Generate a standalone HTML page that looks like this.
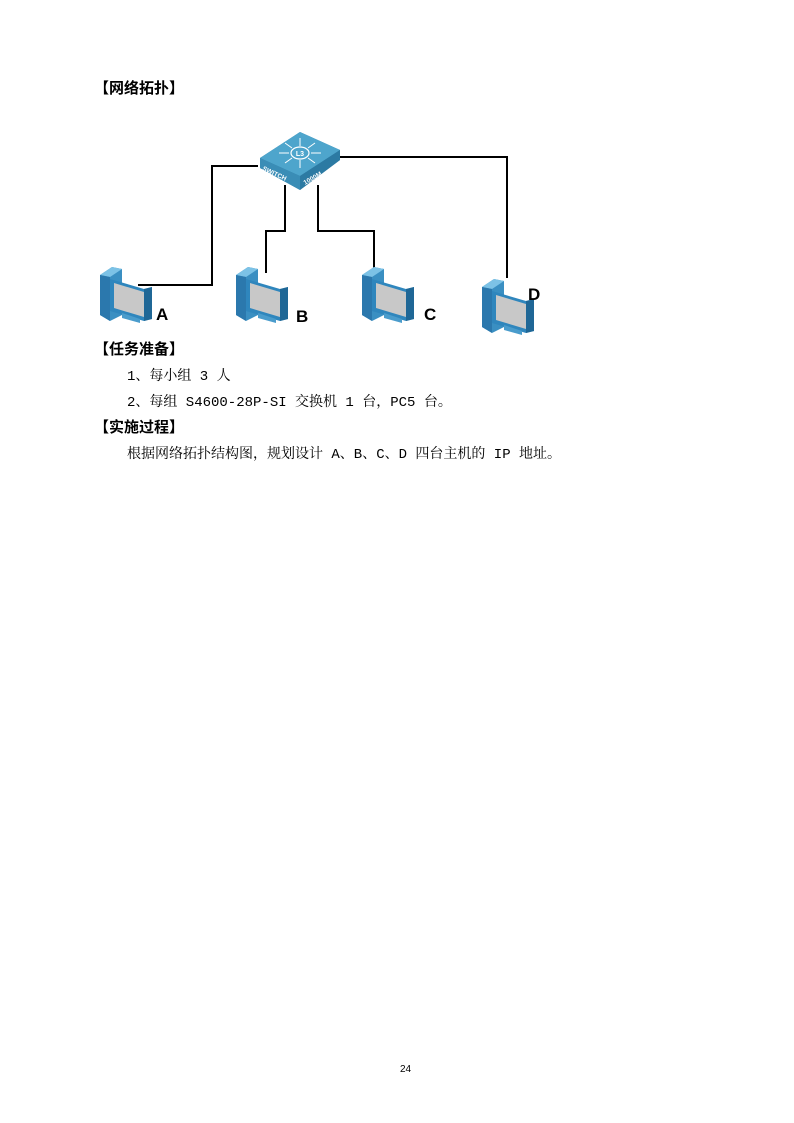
<!DOCTYPE html>
<html><head><meta charset="utf-8"><style>
body{margin:0;background:#fff;}
.p{position:relative;width:794px;height:1123px;overflow:hidden;font-family:"Liberation Serif","Noto Serif CJK SC",serif;color:#000;}
.t{position:absolute;white-space:nowrap;}
.h{font-family:"Liberation Sans","Noto Sans CJK SC",sans-serif;font-weight:bold;font-size:15px;}
.n{font-size:14px;font-family:"Liberation Mono","Noto Serif CJK SC",serif;}
.l{font-family:"Liberation Sans",sans-serif;font-weight:bold;font-size:17px;}
</style></head><body><div class="p">
<div class="t h" style="left:94px;top:77px">【网络拓扑】</div>
<svg style="position:absolute;left:0;top:0" width="794" height="400">
<defs>
<g id="pc">
<path d="M0 10 L12 2 L22 4 L22 50 L10 56 L0 50Z" fill="#3a8fc2"/>
<path d="M0 10 L12 2 L22 4 L10 12Z" fill="#7cc2e6"/>
<path d="M0 10 L10 12 L10 56 L0 50Z" fill="#2b78ad"/>
<path d="M10 14 L44 24 L52 22 L52 54 L44 56 L10 46Z" fill="#2f86bd"/>
<path d="M14 18 L44 27 L44 52 L14 43Z" fill="#c8c8c8"/>
<path d="M44 24 L52 22 L52 54 L44 56Z" fill="#1f6796"/>
<path d="M22 48 L40 54 L40 58 L22 53Z" fill="#4a9ccc"/>
</g>
</defs>
<g fill="none" stroke="#000" stroke-width="2">
<polyline points="258,166 212,166 212,285 138,285"/>
<polyline points="285,185 285,231 266,231 266,273"/>
<polyline points="318,185 318,231 374,231 374,273"/>
<polyline points="340,157 507,157 507,278"/>
</g>
<path d="M300 132 L340 150 L340 160 L300 190 L260 168 L260 158Z" fill="#2f7fa8"/>
<path d="M300 132 L340 150 L300 176 L260 158Z" fill="#4ea5cc"/>
<path d="M260 158 L300 176 L300 190 L260 168Z" fill="#3a8db6"/>
<path d="M300 176 L340 150 L340 160 L300 190Z" fill="#2c7aa3"/>
<ellipse cx="300" cy="153" rx="9" ry="6" fill="none" stroke="#fff" stroke-width="1.2"/>
<text x="300" y="156" font-size="7" fill="#fff" text-anchor="middle" font-family="Liberation Sans" font-weight="bold">L3</text>
<g stroke="#fff" stroke-width="1" fill="none"><path d="M289 153h-10M311 153h10M300 146v-8M300 160v8M292 148l-7-5M308 148l7-5M292 158l-7 5M308 158l7 5"/></g>
<text x="262" y="170" font-size="6.5" fill="#fff" font-family="Liberation Sans" font-weight="bold" transform="rotate(25 262 170)">SWITCH</text>
<text x="305" y="185" font-size="6.5" fill="#fff" font-family="Liberation Sans" font-weight="bold" transform="rotate(-30 305 185)">1000M</text>
<use href="#pc" x="100" y="265"/>
<use href="#pc" x="236" y="265"/>
<use href="#pc" x="362" y="265"/>
<use href="#pc" x="482" y="277"/>
</svg>
<div class="t l" style="left:156px;top:305px">A</div>
<div class="t l" style="left:296px;top:307px">B</div>
<div class="t l" style="left:424px;top:305px">C</div>
<div class="t l" style="left:528px;top:285px">D</div>
<div class="t h" style="left:94px;top:338px">【任务准备】</div>
<div class="t n" style="left:127px;top:365px">1、每小组 3 人</div>
<div class="t n" style="left:127px;top:391px">2、每组 S4600-28P-SI 交换机 1 台，PC5 台。</div>
<div class="t h" style="left:94px;top:416px">【实施过程】</div>
<div class="t n" style="left:127px;top:443px">根据网络拓扑结构图，规划设计 A、B、C、D 四台主机的 IP 地址。</div>
<div class="t" style="left:400px;top:1064px;font-size:10px;font-family:'Liberation Sans',sans-serif">24</div>
</div></body></html>
